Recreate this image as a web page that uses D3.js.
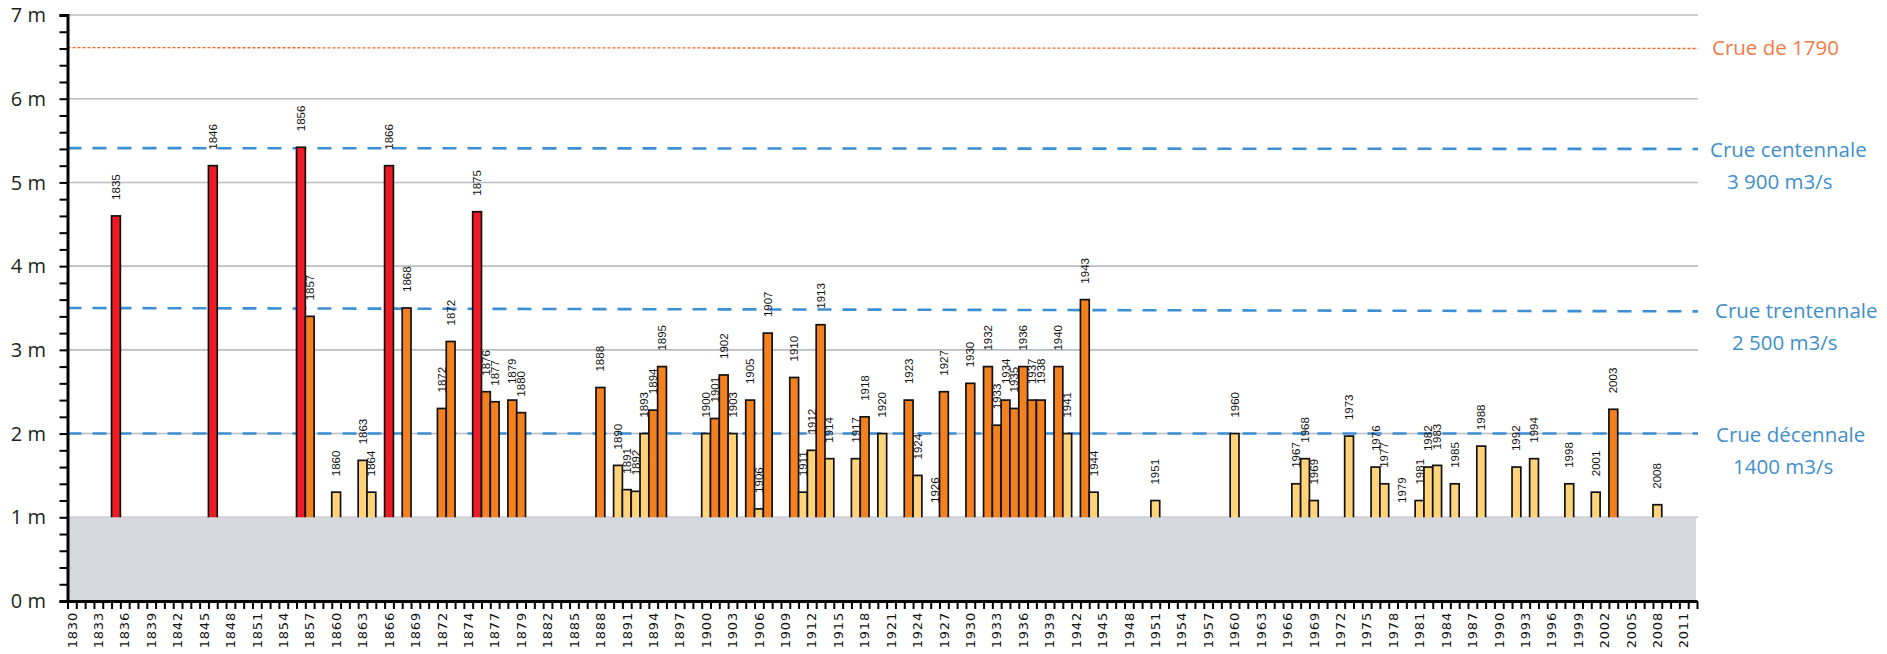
<!DOCTYPE html>
<html>
<head>
<meta charset="utf-8">
<script src="https://cdn.jsdelivr.net/npm/d3@7"></script>
<style>
  html, body { margin: 0; padding: 0; background: #fff; }
  svg { display: block; }
</style>
</head>
<body>
<script>
// crues : hauteur (m) par évènement, position = rang de la catégorie sur l'axe (1830 = 0)
var slots = [5,16,26,27,30,33,34,36,38,42,43,46,47,48,50,51,60,62,63,64,65,66,67,72,73,74,75,77,78,79,
  82,83,84,85,86,89,90,92,95,96,98,99,102,104,105,106,107,108,109,110,112,113,115,116,123,132,
  139,140,141,145,148,149,151,153,154,155,157,160,164,166,170,173,175,180];
var labels = ["1835","1846","1856","1857","1860","1863","1864","1866","1868","1872","1872","1875","1876","1877",
  "1879","1880","1888","1890","1891","1892","1893","1894","1895","1900","1901","1902","1903","1905","1906","1907",
  "1910","1911","1912","1913","1914","1917","1918","1920","1923","1924","1926","1927","1930","1932","1933","1934",
  "1935","1936","1937","1938","1940","1941","1943","1944","1951","1960","1967","1968","1969","1973","1976","1977",
  "1979","1981","1982","1983","1985","1988","1992","1994","1998","2001","2003","2008"];
var heights = [4.6,5.2,5.42,3.4,1.3,1.68,1.3,5.2,3.5,2.3,3.1,4.65,2.5,2.38,2.4,2.25,2.55,1.62,1.33,1.31,2.0,2.28,2.8,
  2.0,2.18,2.7,2.0,2.4,1.1,3.2,2.67,1.3,1.8,3.3,1.7,1.7,2.2,2.0,2.4,1.5,0.98,2.5,2.6,2.8,2.1,2.4,2.3,2.8,2.4,2.4,
  2.8,2.0,3.6,1.3,1.2,2.0,1.4,1.7,1.2,1.97,1.6,1.4,0.98,1.2,1.6,1.62,1.4,1.85,1.6,1.7,1.4,1.3,2.29,1.15];
// r = forte, o = moyenne, y = faible
var classes = ["r","r","r","o","y","y","y","r","o","o","o","r","o","o","o","o","o","y","y","y","y","o","o",
  "y","o","o","y","o","y","o","o","y","y","o","y","y","o","y","o","y","y","o","o","o","o","o","o","o","o","o",
  "o","y","o","y","y","y","y","y","y","y","y","y","y","y","y","y","y","y","y","y","y","y","o","y"];

var nSlots = 185;
var tickLabels = ["1830","1833","1836","1839","1842","1845","1848","1851","1854","1857","1860","1863","1866",
  "1869","1872","1874","1877","1879","1882","1885","1888","1891","1894","1897","1900","1903","1906","1909",
  "1912","1915","1918","1921","1924","1927","1930","1933","1936","1939","1942","1945","1948","1951","1954",
  "1957","1960","1963","1966","1969","1972","1975","1978","1981","1984","1987","1990","1993","1996","1999",
  "2002","2005","2008","2011"];
var yTicks = [0,1,2,3,4,5,6,7];

// lignes de référence
var refNames = ["Crue de 1790","Crue centennale","Crue trentennale","Crue décennale"];
var refFlows = ["","3 900 m3/s","2 500 m3/s","1400 m3/s"];
var refStart = [6.61,5.41,3.50,2.0];
var refEnd = [6.60,5.40,3.46,2.0];

var W = 1887, H = 654;
var colors = {r: "#ed1c24", o: "#f4811f", y: "#fed37a"};

var svg = d3.select("body").append("svg").attr("width", W).attr("height", H);

var x = d3.scaleBand().domain(d3.range(nSlots)).range([67.5, 1697]).padding(0);
var xl = d3.scaleLinear().domain([0, nSlots]).range([67.5, 1697]);
var y = d3.scaleLinear().domain([0, 7]).range([601, 15]);

// grille
svg.append("g").selectAll("line").data(yTicks.filter(function(d){ return d > 0; })).join("line")
  .attr("x1", 67.5).attr("x2", 1698)
  .attr("y1", function(d){ return y(d); }).attr("y2", function(d){ return y(d); })
  .attr("stroke", "#b9bcc2").attr("stroke-width", 1.6);

// lignes de crue
var refG = svg.append("g");
refStart.forEach(function(v, i){
  var first = i === 0;
  refG.append("line")
    .attr("x1", 67.5).attr("x2", 1698)
    .attr("y1", y(v)).attr("y2", y(refEnd[i]))
    .attr("stroke", first ? "#f26522" : "#3b8fd2")
    .attr("stroke-width", first ? 1.3 : 2.6)
    .attr("stroke-dasharray", first ? "3,2" : "14,11");
});

// barres
var bars = d3.range(labels.length).map(function(i){
  return {slot: slots[i], label: labels[i], h: heights[i], c: classes[i]};
});
svg.append("g").selectAll("rect").data(bars).join("rect")
  .attr("x", function(d){ return x(d.slot); })
  .attr("width", x.bandwidth())
  .attr("y", function(d){ return y(d.h); })
  .attr("height", function(d){ return y(0) - y(d.h); })
  .attr("fill", function(d){ return colors[d.c]; })
  .attr("stroke", "#111").attr("stroke-width", 1.7);

// bande grise 0-1 m
svg.append("rect")
  .attr("x", 67.5).attr("y", y(1))
  .attr("width", 1696 - 67.5).attr("height", y(0) - y(1))
  .attr("fill", "#d5d8dd");

// étiquettes des barres
svg.append("g").selectAll("text").data(bars).join("text")
  .attr("transform", function(d){
    return "translate(" + (x(d.slot) + x.bandwidth() / 2) + "," + (y(d.h) - 16) + ") rotate(-90)";
  })
  .attr("dy", "0.35em")
  .attr("font-family", "Liberation Sans, Arial, sans-serif")
  .attr("font-size", 11.5)
  .attr("fill", "#111")
  .text(function(d){ return d.label; });

// axe Y
var yAxis = d3.axisLeft(y).tickValues(d3.range(0, 36).map(function(k){ return k / 5; }))
  .tickSize(8).tickFormat("");
var gy = svg.append("g").attr("transform", "translate(67.5,0)").call(yAxis);
gy.selectAll("line").attr("stroke", "#000").attr("stroke-width", 2);
gy.select(".domain").attr("stroke", "#000").attr("stroke-width", 3);
svg.append("g").selectAll("text").data(yTicks).join("text")
  .attr("x", 46).attr("y", function(d){ return y(d); })
  .attr("dy", "0.36em").attr("text-anchor", "end")
  .attr("font-family", "Open Sans, sans-serif").attr("font-size", 20)
  .attr("fill", "#231f20")
  .text(function(d){ return d + " m"; });

// axe X
var xAxis = d3.axisBottom(xl).tickValues(d3.range(nSlots + 1)).tickSize(8).tickSizeOuter(0).tickFormat("");
var gx = svg.append("g").attr("transform", "translate(0,601)").call(xAxis);
gx.selectAll("line").attr("stroke", "#000").attr("stroke-width", 2);
gx.select(".domain").attr("stroke", "#000").attr("stroke-width", 3);
svg.append("g").selectAll("text").data(tickLabels).join("text")
  .attr("transform", function(d, i){
    return "translate(" + (x(i * 3) + x.bandwidth() / 2) + ",612) rotate(-90)";
  })
  .attr("dy", "0.36em").attr("text-anchor", "end")
  .attr("font-family", "DejaVu Sans, sans-serif").attr("font-size", 13)
  .attr("letter-spacing", 0.8)
  .attr("fill", "#111")
  .text(function(d){ return d; });

// légendes de droite
var nameX = [1712, 1710, 1715, 1716];
var flowX = [0, 1727, 1732, 1733];
var leg = svg.append("g").attr("font-family", "Open Sans, sans-serif").attr("font-size", 20.5);
refNames.forEach(function(n, i){
  var col = i === 0 ? "#f37a48" : "#3f8fca";
  var yy = (y(refStart[i]) + y(refEnd[i])) / 2;
  leg.append("text").attr("x", nameX[i]).attr("y", i === 0 ? yy : yy + 1)
    .attr("dy", "0.36em")
    .attr("fill", col).text(n);
  if (refFlows[i]) {
    leg.append("text").attr("x", flowX[i]).attr("y", yy + 33)
      .attr("dy", "0.36em").attr("fill", col).text(refFlows[i]);
  }
});
</script>
</body>
</html>
